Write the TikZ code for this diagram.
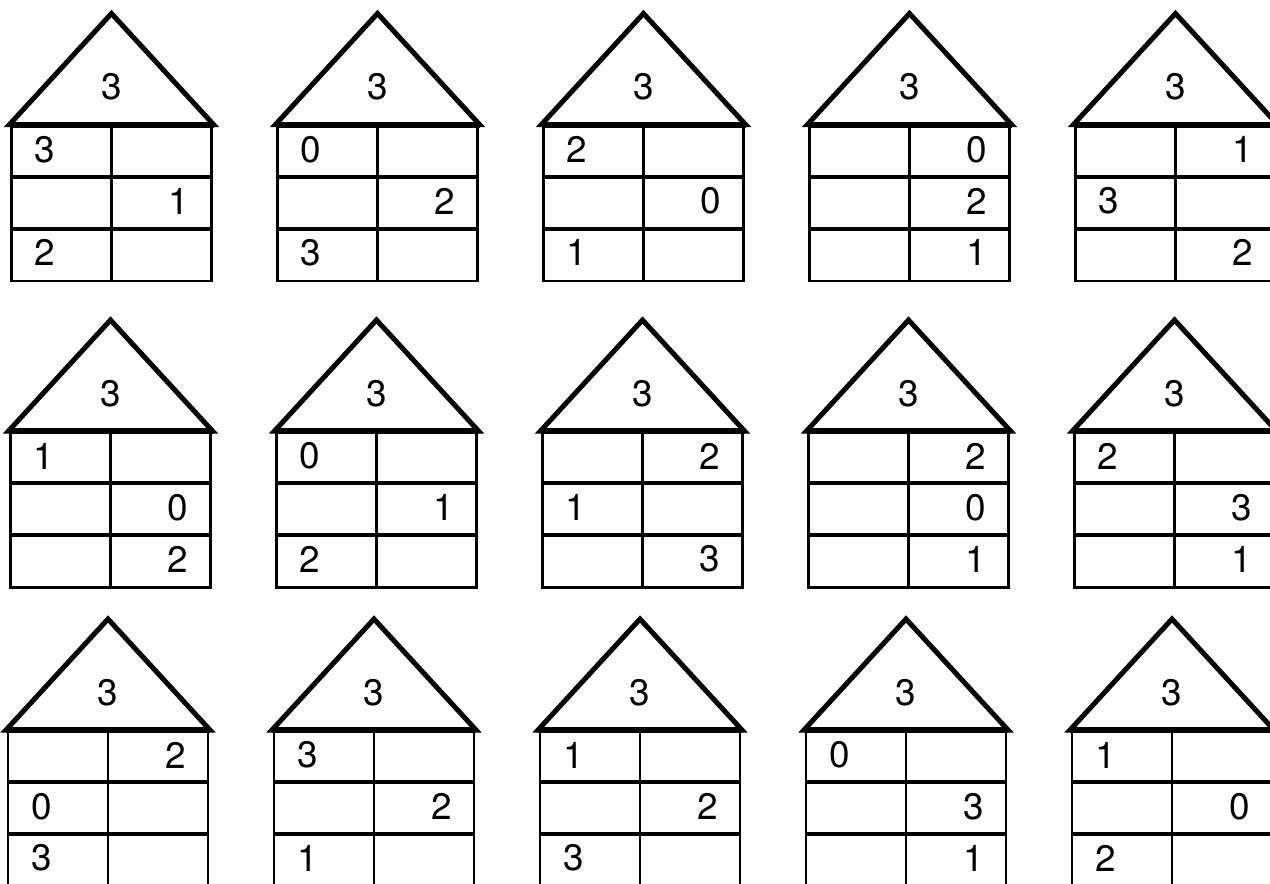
\documentclass[tikz,border=0pt]{standalone}
\usepackage{fontspec}
\setmainfont{TeX Gyre Heros}
\begin{document}
\begin{tikzpicture}[x=1bp,y=-1bp,
  roof/.style={line width=5bp, line join=miter},
  roofbase/.style={line width=6bp},
  floorline/.style={line width=4bp},
  wall/.style={line width=2.8bp},
  num/.style={inner sep=0pt, font=\fontsize{37}{42}\selectfont},
  side0/.style={anchor=west},
  side1/.style={anchor=east}]
\useasboundingbox (0,0) rectangle (1270,884);
\clip (0,0) rectangle (1270,884);
\foreach \c/\r/\sa/\da/\sb/\db/\sc/\dc in {
  0/0/0/3/1/1/0/2, 1/0/0/0/1/2/0/3, 2/0/0/2/1/0/0/1, 3/0/1/0/1/2/1/1, 4/0/1/1/0/3/1/2,
  0/1/0/1/1/0/1/2, 1/1/0/0/1/1/0/2, 2/1/1/2/0/1/1/3, 3/1/1/2/1/0/1/1, 4/1/0/2/1/3/1/1,
  0/2/1/2/0/0/0/3, 1/2/0/3/1/2/0/1, 2/2/0/1/1/2/0/3, 3/2/0/0/1/3/1/1, 4/2/0/1/1/0/0/2}
{
  \pgfmathsetmacro\L{{11.5,10.5,8}[\r]+266*\c}
  \pgfmathsetmacro\T{{124.5,431,730}[\r]}
  \pgfmathsetmacro\R{\L+200}
  \pgfmathsetmacro\M{\L+100}
  \pgfmathsetmacro\B{\T+156.5}
  \coordinate (h\r\c-apex) at (\M,\T-111);
  \coordinate (h\r\c-rl) at (\L-2,\T);
  \coordinate (h\r\c-rr) at (\R+2,\T);
  \coordinate (h\r\c-tl) at (\L,\T);
  \coordinate (h\r\c-tr) at (\R,\T);
  \coordinate (h\r\c-tm) at (\M,\T);
  \coordinate (h\r\c-bl) at (\L,\B);
  \coordinate (h\r\c-br) at (\R,\B);
  \coordinate (h\r\c-bm) at (\M,\B);
  \coordinate (h\r\c-f1l) at (\L,\T+52.2);
  \coordinate (h\r\c-f1r) at (\R,\T+52.2);
  \coordinate (h\r\c-f2l) at (\L,\T+104.4);
  \coordinate (h\r\c-f2r) at (\R,\T+104.4);
  % walls and grid
  \draw[wall] (h\r\c-tl) -- (h\r\c-bl) -- (h\r\c-br) -- (h\r\c-tr);
  \draw[wall] (h\r\c-tm) -- (h\r\c-bm);
  \draw[floorline] (h\r\c-f1l) -- (h\r\c-f1r);
  \draw[floorline] (h\r\c-f2l) -- (h\r\c-f2r);
  % roof
  \draw[roof] (h\r\c-rl) -- (h\r\c-apex) -- (h\r\c-rr) -- cycle;
  \draw[roofbase] (h\r\c-rl) -- (h\r\c-rr);
  \node[num] (h\r\c-top) at (\M,\T-37.5) {3};
  % digits
  \pgfmathsetmacro\xa{\sa==0 ? \L+23 : \R-22}
  \pgfmathsetmacro\xb{\sb==0 ? \L+23 : \R-22}
  \pgfmathsetmacro\xc{\sc==0 ? \L+23 : \R-22}
  \node[num, side\sa] (h\r\c-n1) at (\xa,\T+25) {\da};
  \node[num, side\sb] (h\r\c-n2) at (\xb,\T+76.5) {\db};
  \node[num, side\sc] (h\r\c-n3) at (\xc,\T+128) {\dc};
}
\end{tikzpicture}
\end{document}
